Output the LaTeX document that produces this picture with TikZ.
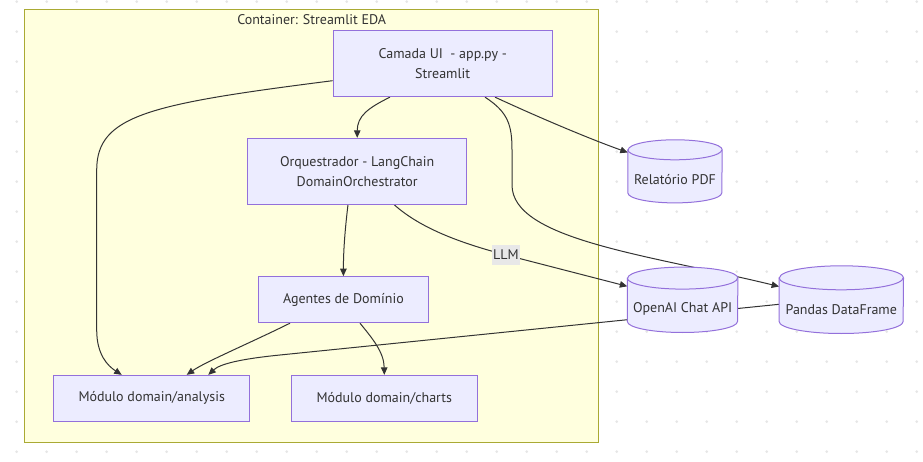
\documentclass[tikz,border=0pt]{standalone}
\usepackage{fontspec}
\setmainfont{PT Sans}
\usetikzlibrary{arrows.meta,calc}
\definecolor{nodefill}{HTML}{ECECFF}
\definecolor{nodeline}{HTML}{9370DB}
\definecolor{contfill}{HTML}{FFFFDE}
\definecolor{contline}{HTML}{AAAA33}
\definecolor{ink}{HTML}{333333}
\definecolor{gridc}{HTML}{E6E6E6}
\definecolor{lblfill}{HTML}{E8E8E8}
\pgfdeclarelayer{bg}
\pgfdeclarelayer{edges}
\pgfsetlayers{bg,edges,main}
\tikzset{
  txtfont/.style={font=\fontsize{14}{20}\selectfont, text=ink},
  boxnode/.style={txtfont, draw=nodeline, fill=nodefill, line width=1pt, inner sep=0pt, align=center},
  cylframe/.style={inner sep=0pt},
  cylbody/.style={draw=nodeline, fill=nodefill, line width=1pt},
  cylfront/.style={draw=nodeline, line width=1pt},
  cyltext/.style={txtfont, inner sep=0pt},
  contnode/.style={draw=contline, fill=contfill, line width=1pt, inner sep=0pt},
  lblnode/.style={txtfont, fill=lblfill, inner sep=1.5pt, minimum height=20pt},
  edge/.style={draw=ink, line width=1pt, -{Triangle[length=7.5pt,width=6.5pt]}},
}
% name, cx, cy, width, height, ry, text
\newcommand\dbcyl[7]{%
  \node[cylframe, minimum width=#4, minimum height=#5] (#1) at (#2,#3) {};
  \path[cylbody] ([yshift=-#6]#1.north west) -- ([yshift=#6]#1.south west)
     arc[start angle=180, end angle=360, x radius={0.5*#4pt}, y radius=#6pt]
     -- ([yshift=-#6]#1.north east)
     arc[start angle=0, end angle=180, x radius={0.5*#4pt}, y radius=#6pt] -- cycle;
  \path[cylfront] ([yshift=-#6]#1.north west)
     arc[start angle=180, end angle=360, x radius={0.5*#4pt}, y radius=#6pt];
  \node[cyltext] (#1-t) at ([yshift={-(#6-2)}]#1.center) {#7};
}
\begin{document}
\begin{tikzpicture}[x=1pt, y=-1pt]
\useasboundingbox (0,0) rectangle (923,462);
\begin{pgfonlayer}{bg}
  \foreach \i in {0,...,30} {
    \foreach \j in {0,...,15} {
      \fill[gridc] (16.7+30*\i, 1.7+30*\j) circle (1.5pt);
    }
  }
  \node[contnode, minimum width=574.3, minimum height=432] (cont) at (311.15,226) {};
  \node[txtfont, inner sep=0pt] (contlabel) at (311.7,19.5) {Container: Streamlit EDA};
\end{pgfonlayer}

\node[boxnode, minimum width=219.3, minimum height=65.7] (ui) at (442.7,63.8) {Camada UI~ - app.py -\\Streamlit};
\node[boxnode, minimum width=219, minimum height=65.7] (orq) at (357.2,171.2) {Orquestrador - LangChain\\DomainOrchestrator};
\node[boxnode, minimum width=170.7, minimum height=46] (agentes) at (343.4,299.7) {Agentes de Domínio};
\node[boxnode, minimum width=195.9, minimum height=45.7] (analysis) at (151.7,398.2) {Módulo domain/analysis};
\node[boxnode, minimum width=186, minimum height=45.7] (charts) at (384.3,398.2) {Módulo domain/charts};

\dbcyl{pdf}{675}{171.35}{94}{62.7}{10}{Relatório PDF}
\dbcyl{openai}{682.6}{299.8}{110.2}{65}{11}{OpenAI Chat API}
\dbcyl{pandas}{841.3}{299.65}{124}{67.3}{12}{Pandas DataFrame}

\node[lblnode] (llm) at (506,255) {LLM};

\begin{pgfonlayer}{edges}
  \draw[edge] ([xshift=-52.7]ui.south) .. controls (368,108) and (357.3,116) .. (orq.north);
  \draw[edge] ([yshift=-16.9]ui.west) .. controls (150,104) and (96.7,115) .. (96.7,170) -- (96.7,330) .. controls (96.7,355) and (108,366) .. ([xshift=-30]analysis.north);
  \draw[edge] ([xshift=52.3]ui.south) .. controls (540,118) and (590,139) .. ([yshift=-12.7]pdf.north west);
  \draw[edge] ([xshift=42.3]ui.south) .. controls (508,112) and (512,125) .. (512,150) -- (512,185) .. controls (512,240) and (650,255) .. ([yshift=-20.7]pandas.north west);
  \draw[edge] ([xshift=-9.2]orq.south) .. controls (345,230) and (343.4,250) .. (agentes.north);
  \draw[edge] ([xshift=36.8]orq.south) .. controls (420,228) and (460,243) .. (llm.center) -- ([yshift=-19.2]openai.north west);
  \draw[edge] ([xshift=-53.4]agentes.south) .. controls (250,343) and (205,362) .. ([xshift=35]analysis.north);
  \draw[edge] ([xshift=16.6]agentes.south) .. controls (372,338) and (384,352) .. (charts.north);
  \draw[edge] ([yshift=-38.5]pandas.north west) -- (280,355) .. controls (240,359) and (220,364) .. ([xshift=56.6]analysis.north);
\end{pgfonlayer}
\end{tikzpicture}
\end{document}
